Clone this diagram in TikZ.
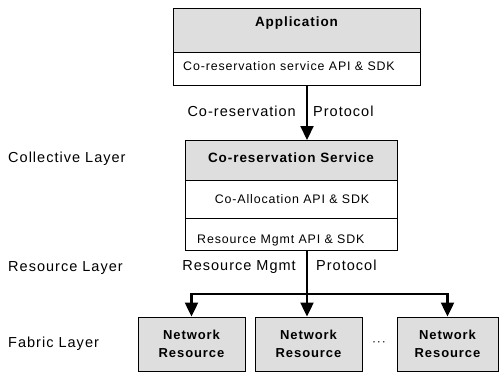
\documentclass[tikz,border=0pt]{standalone}
\usepackage{fontspec}
\setmainfont{Liberation Sans}[LetterSpace=7]
\usetikzlibrary{arrows.meta}
\begin{document}
\begin{tikzpicture}[x=1pt,y=-1pt,
  box/.style={draw=black, line width=0.9pt, inner sep=0pt, anchor=north west},
  shade/.style={fill=black!13},
  lbl/.style={font=\fontsize{14.5}{16}\selectfont, inner sep=0pt},
  apitext/.style={font=\fontsize{12.4}{14}\selectfont, inner sep=0pt},
  headtext/.style={font=\fontsize{13.5}{16}\selectfont\bfseries, inner sep=0pt},
  nrbox/.style={draw=black, line width=0.9pt, fill=black!13, inner sep=0pt,
    minimum height=54pt, align=center,
    font=\fontsize{13}{18}\selectfont\bfseries},
  wire/.style={line width=2.2pt},
  flow/.style={wire, -{Triangle[width=13pt,length=14pt]}}
]
\useasboundingbox (0,0) rectangle (500,372);

% Application block
\node[box, shade, minimum width=247pt, minimum height=44pt] (apphead) at (173,8) {};
\node[headtext, anchor=base] (apptitle) at (296.5,27) {Application};
\node[box, minimum width=247pt, minimum height=33pt] (appapi) at (173,52) {};
\node[apitext, anchor=base west] (appapitext) at (183,70) {Co-reservation service API \& SDK};

% Co-reservation service block
\node[box, shade, minimum width=212pt, minimum height=40pt] (svchead) at (185,140) {};
\node[headtext, anchor=base] (svctitle) at (291,162) {Co-reservation Service};
\node[box, minimum width=212pt, minimum height=38pt] (svcalloc) at (185,180) {};
\node[apitext, anchor=base] (svcalloctext) at (292,203) {Co-Allocation API \& SDK};
\node[box, minimum width=212pt, minimum height=32pt] (svcmgmt) at (185,218) {};
\node[apitext, anchor=base west] (svcmgmttext) at (197,243) {Resource Mgmt API \& SDK};

% Layer names
\node[lbl, anchor=base west] (collective) at (8,162) {Collective Layer};
\node[lbl, anchor=base west] (resource) at (8,271) {Resource Layer};
\node[lbl, anchor=base west] (fabric) at (8,347) {Fabric Layer};

% Fabric resources
\node[nrbox, minimum width=107pt] (nr1) at (191.5,344) {Network\\Resource};
\node[nrbox, minimum width=107pt] (nr2) at (308.5,344) {Network\\Resource};
\node[nrbox, minimum width=101pt] (nr3) at (447.5,344) {Network\\Resource};
\node[font=\fontsize{12}{14}\selectfont, inner sep=0pt] (gap) at (379,344) {···};

% Protocol connectors
\coordinate (mx) at (307,200);
\coordinate (bus) at (307,294);
\draw[flow] (appapi.south -| mx) -- (svchead.north -| mx);
\node[lbl, anchor=base east] (corlbl) at (296,116) {Co-reservation};
\node[lbl, anchor=base west] (corproto) at (313,116) {Protocol};

\draw[wire] (svcmgmt.south -| mx) -- (bus);
\draw[flow] (bus) -| (nr1.north);
\draw[flow] (bus) -| (nr3.north);
\draw[flow] (bus) -- (bus |- nr2.north);
\node[lbl, anchor=base east] (rmlbl) at (296,270) {Resource Mgmt};
\node[lbl, anchor=base west] (rmproto) at (316,270) {Protocol};
\end{tikzpicture}
\end{document}
